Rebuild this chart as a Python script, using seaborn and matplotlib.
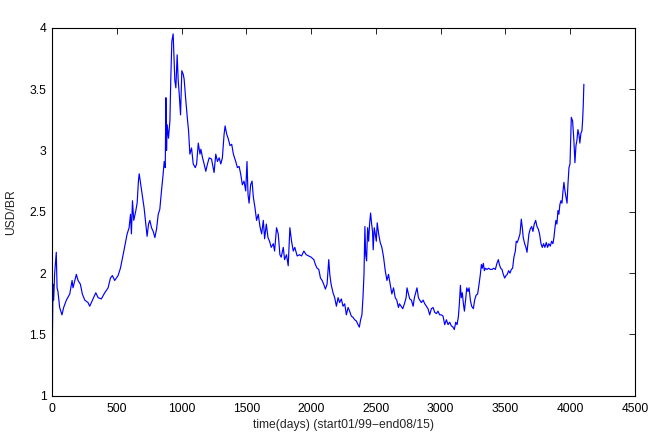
import seaborn as sns
import matplotlib.pyplot as plt
import pandas as pd
from matplotlib.ticker import FormatStrFormatter

# --------------------------------------------------
# Data (day index, USD/BRL rate)
# --------------------------------------------------
days = [
    0, 8, 13, 20, 33, 39, 46, 59, 77, 90, 111, 137, 155, 162, 188, 201, 219,
    234, 253, 278, 291, 317, 338, 356, 381, 407, 433, 451, 466, 484, 510, 528,
    549, 569, 580, 595, 606, 613, 621, 631, 647, 657, 667, 673, 685, 698, 711,
    724, 734, 745, 755, 768, 781, 794, 807, 820, 832, 845, 858, 866, 874, 879,
    884, 889, 899, 910, 917, 925, 935, 941, 948, 956, 966, 974, 982, 992, 1002,
    1013, 1020, 1031, 1044, 1054, 1064, 1077, 1090, 1106, 1116, 1129, 1142,
    1149, 1162, 1174, 1187, 1200, 1213, 1231, 1251, 1264, 1277, 1290, 1303,
    1315, 1328, 1336, 1349, 1359, 1374, 1387, 1400, 1418, 1431, 1444, 1456,
    1469, 1482, 1495, 1505, 1513, 1521, 1533, 1544, 1554, 1567, 1579, 1592,
    1605, 1618, 1631, 1641, 1654, 1667, 1679, 1692, 1708, 1718, 1733, 1746,
    1759, 1769, 1785, 1795, 1810, 1823, 1836, 1849, 1862, 1874, 1892, 1910,
    1926, 1944, 1962, 1982, 2000, 2021, 2033, 2046, 2059, 2072, 2085, 2097,
    2110, 2123, 2136, 2144, 2154, 2169, 2182, 2195, 2208, 2220, 2233, 2246,
    2259, 2272, 2285, 2297, 2310, 2323, 2336, 2349, 2362, 2372, 2382, 2392,
    2400, 2408, 2415, 2421, 2428, 2436, 2444, 2451, 2459, 2467, 2474, 2479,
    2487, 2495, 2503, 2510, 2521, 2533, 2546, 2559, 2572, 2585, 2597, 2610,
    2623, 2636, 2649, 2661, 2674, 2682,
    2694, 2707, 2720, 2733, 2740, 2751, 2761, 2774, 2787, 2797, 2807, 2817,
    2828, 2838, 2851, 2864, 2877, 2889, 2902, 2915, 2928, 2941, 2954, 2967,
    2979, 2992, 3005, 3018, 3031, 3044, 3057, 3069, 3082, 3095, 3105, 3116,
    3126, 3136, 3144, 3152, 3159, 3167, 3175, 3183, 3193, 3201, 3211, 3219,
    3229, 3239, 3252, 3262, 3273, 3285, 3296, 3306, 3314, 3321, 3329, 3337,
    3345, 3357, 3370, 3383, 3396, 3409, 3422, 3434, 3445, 3453, 3463, 3473,
    3483, 3494, 3504, 3514, 3524, 3535, 3545, 3555, 3565, 3576, 3583, 3591,
    3601, 3612, 3622, 3630, 3637, 3648, 3658, 3666, 3673, 3681, 3691, 3702,
    3712, 3722, 3733, 3743, 3753, 3763, 3774, 3784, 3794, 3804, 3815, 3825,
    3835, 3846, 3856, 3866, 3874, 3882, 3889, 3897, 3905, 3912, 3920, 3928,
    3936, 3944, 3951, 3959, 3967, 3975, 3982, 3990, 3998,
    4008, 4018, 4028, 4036, 4044, 4051, 4059, 4067, 4074, 4082, 4090, 4095,
    4100, 4105,
]

usd_brl = [
    1.21, 1.91, 1.78, 1.99, 2.17, 1.88, 1.85, 1.72, 1.66, 1.72, 1.78, 1.83,
    1.94, 1.88, 1.99, 1.94, 1.91, 1.83, 1.78, 1.76, 1.73, 1.79, 1.84, 1.80,
    1.79, 1.84, 1.88, 1.96, 1.98, 1.94, 1.98, 2.04, 2.15, 2.26, 2.32, 2.37,
    2.48, 2.32, 2.59, 2.43, 2.51, 2.57, 2.75, 2.81, 2.72, 2.62, 2.53, 2.40,
    2.30, 2.40, 2.43, 2.37, 2.34, 2.29, 2.36, 2.48, 2.52, 2.67, 2.81, 2.91,
    2.86, 3.43, 3.00, 3.21, 3.10, 3.24, 3.59, 3.89, 3.95, 3.78, 3.57, 3.51,
    3.78, 3.57, 3.46, 3.29, 3.65, 3.62, 3.58, 3.43, 3.27, 3.16, 2.97, 3.02,
    2.89, 2.86, 2.89, 3.06, 2.97,
    3.01, 2.94, 2.89, 2.83, 2.89, 2.94, 2.93, 2.82, 2.97, 2.91, 2.94, 2.89,
    2.94, 3.13, 3.20, 3.13, 3.10, 3.04, 3.05, 2.97, 2.91, 2.86, 2.87, 2.81,
    2.72, 2.75, 2.67, 2.91, 2.64, 2.57, 2.72, 2.75, 2.62, 2.53, 2.43, 2.48,
    2.38, 2.32, 2.43, 2.28, 2.40, 2.29, 2.26, 2.21, 2.24, 2.18, 2.37, 2.32,
    2.15, 2.13, 2.21, 2.11, 2.15, 2.06, 2.37, 2.26, 2.18, 2.21, 2.14, 2.15,
    2.14, 2.18, 2.15, 2.14, 2.13, 2.11, 2.07, 2.04, 2.03, 1.96, 1.94, 1.91,
    1.87, 1.91, 2.11, 1.99, 1.91, 1.84, 1.80, 1.73, 1.80, 1.76, 1.79, 1.73,
    1.75, 1.66, 1.72, 1.69, 1.65, 1.64, 1.62, 1.61, 1.58, 1.56, 1.62, 1.66,
    1.80, 1.99, 2.38, 2.15, 2.10, 2.37, 2.26, 2.40, 2.49, 2.40, 2.34, 2.19,
    2.37, 2.32, 2.26, 2.41, 2.32, 2.25, 2.21, 2.13, 2.02, 1.94, 1.99, 1.91,
    1.83, 1.88, 1.80, 1.78, 1.72, 1.75,
    1.73, 1.71, 1.75, 1.80, 1.88, 1.83, 1.79, 1.78, 1.73, 1.80, 1.84, 1.88,
    1.80, 1.78, 1.76, 1.78, 1.75, 1.73, 1.71, 1.66, 1.71, 1.72, 1.68, 1.67,
    1.69, 1.66, 1.66, 1.65, 1.58, 1.62, 1.58, 1.60, 1.57, 1.56, 1.54, 1.60,
    1.58, 1.64, 1.75, 1.90, 1.80, 1.84, 1.75, 1.69, 1.79, 1.88, 1.85, 1.88,
    1.78, 1.73, 1.71, 1.78, 1.82, 1.83, 1.91, 1.99, 2.07, 2.04, 2.08, 2.02,
    2.04, 2.03, 2.04, 2.03, 2.03, 2.04, 2.03, 2.08, 2.11, 2.07, 2.04, 2.03,
    1.99, 1.96, 1.98, 1.99, 2.02, 2.00, 2.03, 2.04, 2.13, 2.18, 2.26, 2.25,
    2.28, 2.32, 2.44, 2.37, 2.29, 2.24, 2.21, 2.17, 2.24, 2.32, 2.36, 2.38,
    2.34, 2.40, 2.43, 2.38, 2.36, 2.32, 2.24, 2.21, 2.24, 2.21, 2.25, 2.21,
    2.24, 2.22, 2.26, 2.24, 2.29, 2.37, 2.43, 2.40, 2.51, 2.48, 2.56, 2.59,
    2.57, 2.67, 2.74, 2.67, 2.62, 2.57, 2.72, 2.86, 2.89,
    3.27, 3.24, 3.08, 2.90, 3.04, 3.08, 3.17, 3.13, 3.06, 3.14, 3.16, 3.24,
    3.36, 3.54,
]

x_ticks = [0, 500, 1000, 1500, 2000, 2500, 3000, 3500, 4000, 4500]
y_ticks = [1, 1.5, 2, 2.5, 3, 3.5, 4]

df = pd.DataFrame({"day": days, "rate": usd_brl})

# --------------------------------------------------
# Plot
# --------------------------------------------------
sns.set_style("white")
plt.rcParams["font.family"] = ["Liberation Sans", "DejaVu Sans"]

fig = plt.figure(figsize=(6.5, 4.34), dpi=100)
ax = fig.add_axes([0.08, 0.088, 0.897, 0.848])

sns.lineplot(data=df, x="day", y="rate", color="#0000ff", linewidth=0.85, ax=ax)

ax.set_xlim(0, 4500)
ax.set_ylim(1, 4)
ax.set_xticks(x_ticks)
ax.set_yticks(y_ticks)
ax.yaxis.set_major_formatter(FormatStrFormatter("%g"))
ax.tick_params(direction="in", length=4, width=0.6, top=True, right=True,
               labelsize=8.7, colors="black")
ax.tick_params(axis="x", pad=5)
ax.tick_params(axis="y", pad=4)
for s in ax.spines.values():
    s.set_color("black")
    s.set_linewidth(0.8)

ax.set_xlabel("time(days) (start01/99\u2212end08/15)", fontsize=8.7, labelpad=3)
ax.set_ylabel("USD/BR", fontsize=8.7, labelpad=9)

plt.savefig("out.png", dpi=100)
